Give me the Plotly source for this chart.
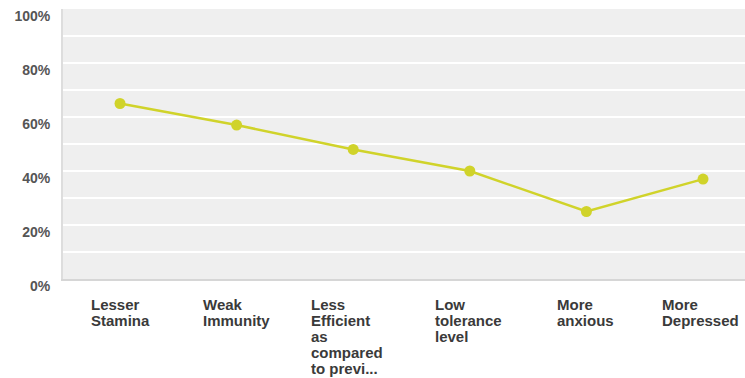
import plotly.graph_objects as go

# Survey results: share of respondents reporting each effect (%)
categories = [
    "Lesser Stamina",
    "Weak Immunity",
    "Less Efficient as compared to previ...",
    "Low tolerance level",
    "More anxious",
    "More Depressed",
]
label_lines = [
    ["Lesser", "Stamina"],
    ["Weak", "Immunity"],
    ["Less", "Efficient", "as", "compared", "to previ..."],
    ["Low", "tolerance", "level"],
    ["More", "anxious"],
    ["More", "Depressed"],
]
values = [65, 57, 48, 40, 25, 37]
y_ticks = [0, 20, 40, 60, 80, 100]

LINE_COLOR = "#d0d32a"
LABEL_COLOR = "#3a3a3a"
FONT = "Liberation Sans, Arial, sans-serif"

x_idx = list(range(len(categories)))

fig = go.Figure()
fig.add_trace(
    go.Scatter(
        x=x_idx,
        y=values,
        mode="lines+markers",
        line=dict(color=LINE_COLOR, width=2.5),
        marker=dict(color=LINE_COLOR, size=11),
        hovertext=categories,
        hoverinfo="text+y",
        showlegend=False,
    )
)

# Category labels: left-aligned multi-line blocks under each point
label_nudge = [0, 0, -6, -1, -1, -3]
for i, lines in enumerate(label_lines):
    text = "<br>".join(
        f'<span style="font-size:15px"><b>{ln}</b></span>' for ln in lines
    )
    fig.add_annotation(
        x=i,
        y=0,
        xref="x",
        yref="paper",
        yanchor="top",
        xanchor="center",
        align="left",
        yshift=-15,
        xshift=label_nudge[i],
        text=text,
        showarrow=False,
        font=dict(family=FONT, size=12.3, color=LABEL_COLOR),
    )

fig.update_layout(
    width=745,
    height=378,
    margin=dict(l=63, r=0, t=9, b=99),
    paper_bgcolor="white",
    plot_bgcolor="#efefef",
    font=dict(family=FONT),
    xaxis=dict(
        range=[-0.489, 5.36],
        showticklabels=False,
        showgrid=False,
        zeroline=False,
        showline=True,
        linecolor="#d6d6d6",
        linewidth=2,
        fixedrange=True,
    ),
    yaxis=dict(
        range=[0, 100],
        tickvals=y_ticks,
        ticktext=[f"{v}%" for v in y_ticks],
        tickfont=dict(family=FONT, size=14, color="#555555", weight="bold"),
        ticklabelshift=7,
        ticklabelstandoff=8,
        showgrid=True,
        gridcolor="white",
        gridwidth=1.5,
        minor=dict(dtick=10, showgrid=True, gridcolor="white", gridwidth=1.5),
        zeroline=False,
        showline=True,
        linecolor="#dddddd",
        linewidth=2,
        fixedrange=True,
    ),
)

fig.write_html("out.html")
